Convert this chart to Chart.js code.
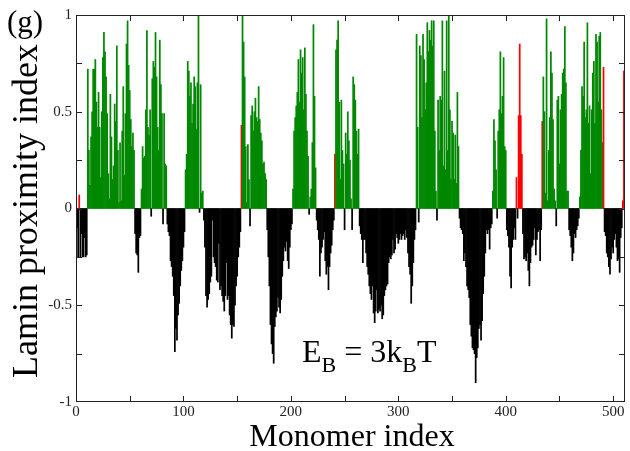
<!DOCTYPE html>
<html>
<head>
<meta charset="utf-8">
<script src="https://cdn.jsdelivr.net/npm/chart.js@4"></script>
<style>
  body { margin: 0; background: #fff; }
  canvas { display: block; }
</style>
</head>
<body>
<canvas id="lpi" width="630" height="451"></canvas>
<script>
// lamin proximity index per monomer (0..511)
const lpi = [
  -0.25,-0.1,-0.25,0.07,-0.25,-0.13,-0.25,-0.25,-0.15,-0.25,-0.24,0.72,0.30,0.12,0.37,0.5,
  0.72,0.72,0.77,0.55,0.42,0.60,0.42,0.16,0.5,0.78,0.91,0.81,0.68,0.49,0.18,0.05,
  0.59,0.37,0.15,0.22,0.54,0.45,0.84,0.30,0.03,0.34,0.04,0.4,0.63,0.17,0.49,0.85,
  0.97,0.74,0.61,0.46,0.32,0.39,0.3,-0.13,-0.23,-0.24,-0.33,-0.15,-0.14,0.1,0.32,0.26,
  0.27,0.51,0.92,0.42,0.38,0.51,-0.04,0.67,0.76,0.73,0.91,0.68,0.42,0.3,0.87,0.64,
  0.49,-0.08,0.49,0.23,0.22,-0.08,-0.12,-0.14,-0.27,-0.3,-0.35,-0.45,-0.74,-0.62,-0.68,-0.55,
  -0.49,-0.4,-0.32,-0.27,-0.2,-0.12,0.2,0.28,0.76,0.71,0.58,0.65,0.44,0.54,0.68,0.63,
  0.41,0.65,1.0,-0.02,0.64,0.08,0.09,-0.06,-0.2,-0.45,-0.51,-0.47,-0.44,-0.38,-0.35,-0.06,
  -0.25,-0.28,-0.3,-0.37,-0.38,-0.18,-0.42,-0.4,-0.45,-0.48,-0.53,-0.45,-0.28,-0.47,-0.45,-0.55,
  -0.6,-0.67,-0.6,-0.61,-0.5,-0.4,-0.35,-0.25,-0.2,-0.12,0.43,1.0,0.86,0.68,0.32,0.03,
  0.33,0.15,-0.09,0.48,0.53,0.4,0.5,0.57,0.47,0.45,0.63,0.46,0.39,0.35,0.23,0.24,
  0.18,0.15,-0.11,-0.25,-0.4,-0.6,-0.7,-0.75,-0.8,-0.61,-0.56,-0.53,-0.46,-0.51,-0.54,-0.47,
  -0.35,-0.27,-0.2,-0.22,-0.17,-0.27,-0.31,-0.2,-0.11,-0.08,0.1,0.4,0.47,0.53,0.6,0.77,
  0.55,0.82,0.7,0.78,0.51,0.83,0.59,0.4,0.27,-0.03,0.06,0.1,0.34,0.95,0.58,0.21,
  -0.06,-0.11,-0.16,-0.35,-0.23,-0.2,-0.16,-0.12,-0.27,-0.34,-0.3,-0.42,-0.3,-0.23,-0.19,-0.11,
  -0.06,0.28,0.82,0.87,0.97,0.55,0.15,0.56,0.3,0.23,-0.11,0.39,0.28,0.5,0.35,0.25,
  0.05,-0.11,0.68,0.64,0.56,0.4,0.28,0.41,-0.09,-0.13,-0.16,-0.28,-0.16,-0.16,-0.23,-0.3,
  -0.34,-0.4,-0.44,-0.47,-0.4,-0.54,-0.59,-0.53,-0.42,-0.54,-0.52,-0.53,-0.5,-0.57,-0.55,-0.45,
  -0.42,-0.4,-0.39,-0.28,-0.25,-0.26,-0.24,-0.16,-0.23,-0.21,-0.13,-0.15,-0.18,-0.16,-0.13,-0.16,
  -0.14,-0.13,-0.16,-0.11,-0.15,-0.23,-0.3,-0.34,-0.49,-0.4,-0.28,-0.16,-0.11,0.9,0.42,-0.07,
  0.84,0.79,0.47,0.9,0.77,0.51,0.65,0.96,0.81,0.92,0.87,0.97,0.84,0.97,0.4,0.09,
  -0.06,0.56,0.3,0.58,0.56,0.97,0.22,0.71,0.2,0.97,0.3,1.0,0.51,0.15,0.45,0.39,
  0.15,0.38,0.13,0.6,0.32,-0.05,-0.1,-0.11,-0.13,-0.27,-0.23,-0.3,-0.4,-0.42,-0.46,-0.6,
  -0.66,-0.72,-0.73,-0.75,-0.9,-0.77,-0.72,-0.62,-0.6,-0.68,-0.58,-0.44,-0.35,-0.23,-0.11,-0.13,
  -0.11,-0.21,-0.1,-0.08,0.09,0.46,0.35,0.2,-0.05,0.4,0.51,0.81,0.49,0.58,0.78,0.32,
  0.3,-0.11,-0.14,-0.2,-0.35,-0.41,-0.2,-0.16,-0.1,-0.16,0.16,-0.05,0.48,0.85,0.48,0.28,
  -0.13,-0.26,-0.25,-0.27,-0.23,-0.32,-0.4,-0.28,-0.2,-0.19,-0.16,-0.1,-0.24,-0.16,-0.12,-0.11,
  -0.27,-0.11,0.45,0.68,0.5,0.08,0.98,0.04,0.3,0.47,0.81,0.7,0.46,0.1,0.04,-0.09,
  0.56,0.58,0.23,0.51,0.59,0.7,0.72,0.94,0.65,0.09,0.09,-0.11,-0.14,-0.2,-0.27,-0.23,
  -0.13,-0.15,-0.11,-0.09,-0.05,0.06,0.3,0.63,0.58,0.86,0.47,0.51,0.96,0.44,0.53,0.18,
  0.51,0.7,0.76,0.44,0.9,0.86,0.55,0.89,0.91,0.51,0.34,0.73,-0.12,-0.14,-0.23,-0.25,
  -0.3,-0.34,-0.26,-0.2,-0.23,-0.16,-0.13,-0.2,-0.27,-0.26,-0.33,-0.15,-0.1,0.04,0.71,0.1
]
// monomers drawn in red
const redIdx = [3, 154, 241, 410, 412, 413, 414, 415, 434, 491, 509, 510, 511]
const xTicks = [0, 100, 200, 300, 400, 500]
const yTicks = [-1, -0.5, 0, 0.5, 1]

const GREEN = "rgb(0,136,0)"
const RED = "rgb(255,0,0)"
const SERIF = "'Liberation Serif', 'DejaVu Serif', serif"

let points = lpi.map((v, i) => ({ x: i, y: v }))
let colors = lpi.map((v, i) => redIdx.includes(i) ? RED : (v < 0 ? "#000" : GREEN))

// frame, inward ticks on all four sides, titles and label text
const decor = {
  id: "decor",
  afterDraw(chart) {
    const c = chart.ctx
    const a = chart.chartArea
    const xs = chart.scales.x
    const ys = chart.scales.y
    c.save()
    c.strokeStyle = "#222"
    c.lineWidth = 1
    c.strokeRect(a.left + 0.5, a.top + 0.5, a.right - a.left - 1, a.bottom - a.top - 1)
    c.beginPath()
    for (let v = 0; v <= 500; v += 50) {
      let px = Math.round(xs.getPixelForValue(v)) + 0.5
      c.moveTo(px, a.bottom); c.lineTo(px, a.bottom - 6)
      c.moveTo(px, a.top); c.lineTo(px, a.top + 6)
    }
    for (let v = -0.75; v <= 0.75; v += 0.25) {
      let py = Math.round(ys.getPixelForValue(v)) + 0.5
      c.moveTo(a.left, py); c.lineTo(a.left + 6, py)
      c.moveTo(a.right, py); c.lineTo(a.right - 6, py)
    }
    c.stroke()

    c.fillStyle = "#000"
    c.textBaseline = "alphabetic"
    // axis titles
    c.font = "32px " + SERIF
    c.textAlign = "center"
    c.fillText("Monomer index", 352, 446)
    c.save()
    c.translate(37, 211)
    c.rotate(-Math.PI / 2)
    c.font = "36px " + SERIF
    c.fillText("Lamin proximity index", 0, 0)
    c.restore()
    // panel label
    c.textAlign = "left"
    c.font = "31px " + SERIF
    c.fillText("(g)", 7, 32)
    // E_B = 3k_B T
    let x = 302, base = 362
    const parts = [["E", 0], ["B", 1], [" = 3k", 0], ["B", 1], ["T", 0]]
    for (const [t, sub] of parts) {
      c.font = (sub ? "22px " : "32px ") + SERIF
      c.fillText(t, x, base + (sub ? 10 : 0))
      x += c.measureText(t).width
    }
    c.restore()
  }
}

new Chart(document.getElementById("lpi"), {
  type: "bar",
  data: {
    datasets: [{
      data: points,
      backgroundColor: colors,
      borderWidth: 0,
      barPercentage: 1,
      categoryPercentage: 1
    }]
  },
  options: {
    responsive: false,
    animation: false,
    layout: { padding: { left: 0, right: 5, top: 15, bottom: 0 } },
    plugins: { legend: { display: false }, tooltip: { enabled: false } },
    scales: {
      x: {
        type: "linear",
        min: 0,
        max: 511,
        offset: false,
        grid: { display: false, drawTicks: false },
        border: { display: false },
        afterBuildTicks: s => { s.ticks = xTicks.map(v => ({ value: v })) },
        afterFit: s => { s.height = 49 },
        ticks: { padding: 1, maxRotation: 0, color: "#222", font: { family: SERIF, size: 15 } }
      },
      y: {
        min: -1,
        max: 1,
        grid: { display: false, drawTicks: false },
        border: { display: false },
        afterBuildTicks: s => { s.ticks = yTicks.map(v => ({ value: v })) },
        afterFit: s => { s.width = 76 },
        ticks: { padding: 4, color: "#222", font: { family: SERIF, size: 15 }, callback: v => String(v) }
      }
    }
  },
  plugins: [decor]
})
</script>
</body>
</html>
